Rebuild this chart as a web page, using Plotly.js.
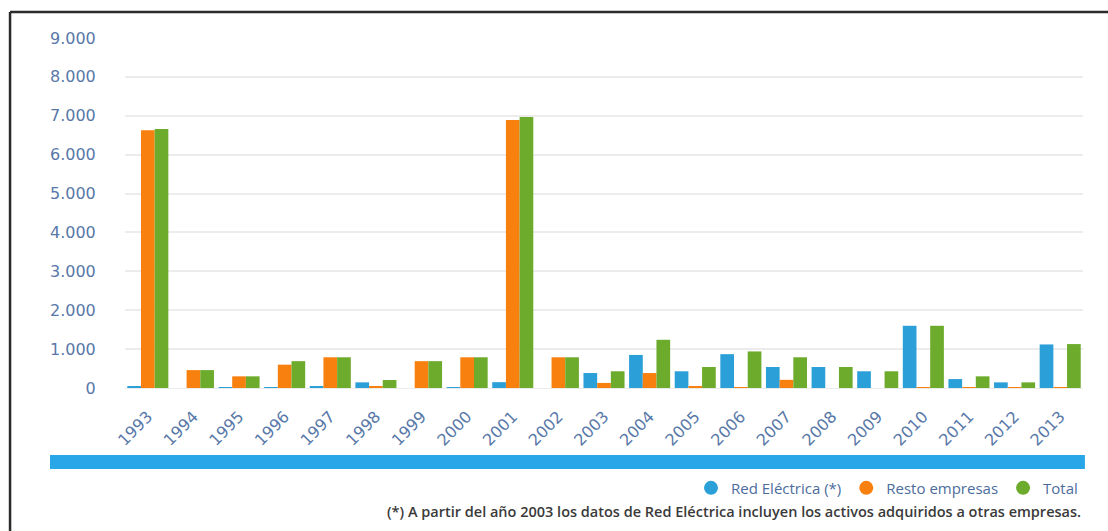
<!DOCTYPE html>
<html>
<head>
<meta charset="utf-8">
<script src="https://cdn.plot.ly/plotly-3.0.1.min.js"></script>
<style>
  html, body { margin: 0; padding: 0; background: #ffffff; }
  #chart { width: 1108px; height: 531px; }
</style>
</head>
<body>
<div id="chart"></div>
<script>
const years = ["1993","1994","1995","1996","1997","1998","1999","2000","2001","2002","2003",
               "2004","2005","2006","2007","2008","2009","2010","2011","2012","2013"];
const redElectrica = [30, 0, 20, 20, 30, 145, 0, 20, 150, 0, 385,
                      850, 430, 870, 540, 540, 430, 1600, 230, 145, 1120];
const restoEmpresas = [6630, 460, 300, 600, 790, 40, 690, 790, 6890, 790, 130,
                       385, 30, 20, 210, 0, 0, 10, 10, 10, 20];
const total = [6660, 460, 300, 690, 790, 205, 690, 790, 6970, 790, 430,
               1240, 540, 940, 790, 540, 430, 1600, 300, 145, 1130];
const seriesNames = ["Red Eléctrica (*)", "Resto empresas", "Total"];
const yTicks = [0, 1000, 2000, 3000, 4000, 5000, 6000, 7000, 8000, 9000];
const footnote = "(*) A partir del año 2003 los datos de Red Eléctrica incluyen los activos adquiridos a otras empresas.";

const colors = ["#2a9fd8", "#f7800f", "#6cab2b"];
const seriesValues = [redElectrica, restoEmpresas, total];

const traces = [];
seriesValues.forEach((vals, i) => {
  traces.push({
    type: "bar", x: years, y: vals, name: seriesNames[i],
    marker: { color: colors[i] }, showlegend: false, hoverinfo: "x+y+name"
  });
});
seriesValues.forEach((vals, i) => {
  traces.push({
    type: "scatter", mode: "markers", x: [null], y: [null], name: seriesNames[i],
    marker: { color: colors[i], size: 14, symbol: "circle" }, showlegend: true
  });
});

const tickFont = { family: "DejaVu Sans, sans-serif", size: 16, color: "#5878a8" };

const layout = {
  width: 1108, height: 531,
  margin: { l: 125, r: 25, t: 38, b: 143 },
  paper_bgcolor: "#ffffff", plot_bgcolor: "#ffffff",
  separators: ",.",
  barmode: "group", bargap: 0.1, bargroupgap: 0,
  showlegend: true,
  legend: {
    orientation: "h", x: 1.0, xanchor: "right", y: -0.286, yanchor: "middle",
    font: { family: "Open Sans, DejaVu Sans, sans-serif", size: 15, color: "#4b6c9c" },
    bgcolor: "rgba(0,0,0,0)", itemclick: false
  },
  xaxis: {
    type: "category", tickangle: -45, tickfont: tickFont,
    showgrid: false, zeroline: false, showline: false,
    ticks: "outside", ticklen: 12, tickcolor: "rgba(0,0,0,0)", automargin: false
  },
  yaxis: {
    range: [0, 9000], tickvals: yTicks, tickformat: ",d", tickfont: tickFont,
    showgrid: true, gridcolor: "#ececec", gridwidth: 1.5, zeroline: true, zerolinecolor: "#ececec",
    showline: false, ticks: "outside", ticklen: 25, tickcolor: "rgba(0,0,0,0)", automargin: false
  },
  shapes: [
    { type: "rect", xref: "paper", yref: "paper", x0: -0.0783, x1: 1.002, y0: -0.2314, y1: -0.1914,
      fillcolor: "#29a6e8", line: { width: 0 } },
    { type: "line", xref: "paper", yref: "paper", x0: -0.12, x1: 1.03, y0: 1.0743, y1: 1.0743,
      line: { color: "#2b2b2b", width: 2.5 } },
    { type: "line", xref: "paper", yref: "paper", x0: -0.12, x1: -0.12, y0: 1.0743, y1: -0.42,
      line: { color: "#2b2b2b", width: 2.5 } }
  ],
  annotations: [
    { xref: "paper", yref: "paper", x: 1.0, y: -0.354, xanchor: "right", yanchor: "middle",
      text: footnote, showarrow: false,
      font: { family: "Open Sans, DejaVu Sans, sans-serif", size: 14.5, color: "#3a3a3a", weight: 600 } }
  ]
};

Plotly.newPlot("chart", traces, layout, { displayModeBar: false, staticPlot: false });
</script>
</body>
</html>
